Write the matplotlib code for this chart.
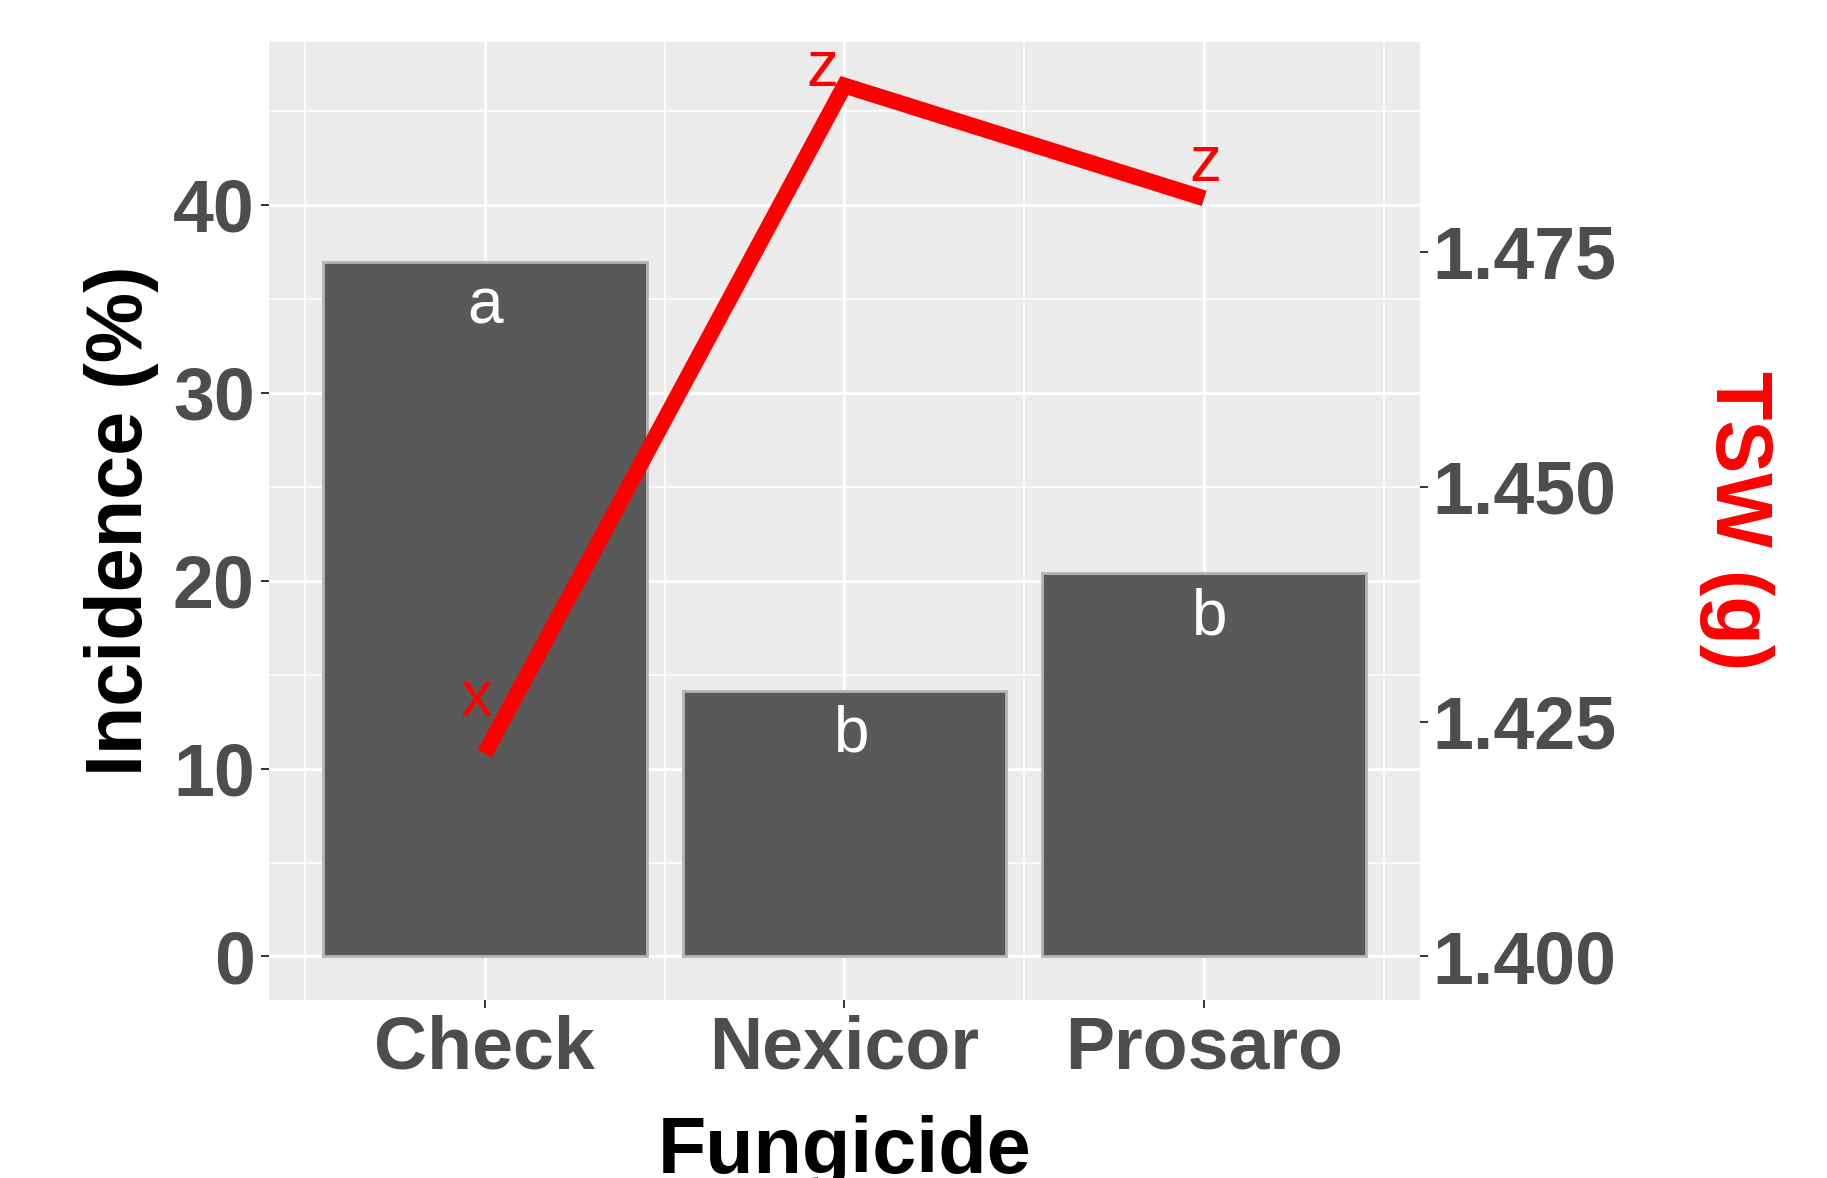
import matplotlib
matplotlib.use("Agg")
import matplotlib.pyplot as plt

# data
fungicides = ["Check", "Nexicor", "Prosaro"]
incidence = [36.96, 14.14, 20.40]
incidence_letters = ["a", "b", "b"]
tsw = [1.4216, 1.4927, 1.4807]
tsw_letters = ["x", "z", "z"]
inc_ticks = [0, 10, 20, 30, 40]
tsw_ticks = [1.400, 1.425, 1.450, 1.475]


# secondary axis: TSW = 1.4 + incidence / 500
def to_tsw(v):
    return 1.4 + v / 500.0


def from_tsw(t):
    return (t - 1.4) * 500.0


plt.rcParams["font.family"] = ["Liberation Sans", "DejaVu Sans"]
grey_txt = "#4D4D4D"

fig = plt.figure(figsize=(18.27, 11.78), dpi=100)
ax = fig.add_axes([0.1472, 0.1511, 0.6300, 0.8132])
ax.set_facecolor("#EBEBEB")
for s in ax.spines.values():
    s.set_visible(False)

x = list(range(len(fungicides)))
ax.bar(x, incidence, width=0.9, color="#595959", edgecolor="#B5B5B5", linewidth=2, zorder=2)

# ggplot style expansion
vals = [0] + incidence + [from_tsw(t) for t in tsw]
lo, hi = min(vals), max(vals)
pad = 0.05 * (hi - lo)
ax.set_ylim(lo - pad, hi + pad)
ax.set_xlim(-0.6, len(fungicides) - 0.4)

ax.set_xticks(x)
ax.set_xticklabels(fungicides)
ax.set_xticks([i - 0.5 for i in range(len(fungicides) + 1)], minor=True)
ax.set_yticks(inc_ticks)
ax.set_yticks([t + 5 for t in inc_ticks], minor=True)
ax.grid(which="major", color="white", linewidth=2.0)
ax.grid(which="minor", color="white", linewidth=1.1)
ax.set_axisbelow(True)
ax.tick_params(which="major", length=5.8, width=1.4, color="#333333",
               labelsize=53, labelcolor=grey_txt, pad=4.5)
ax.tick_params(which="minor", length=0)
for lab in ax.get_xticklabels() + ax.get_yticklabels():
    lab.set_fontweight("bold")

for xi, v, letter, dx in zip(x, incidence, incidence_letters, [0, 5, 4]):
    ax.annotate(letter, (xi, v), xytext=(dx, -44), textcoords="offset points",
                ha="center", va="baseline", color="white", fontsize=46)

ax.set_ylabel("Incidence (%)", fontsize=57, fontweight="bold", color="black", va="center")
ax.yaxis.set_label_coords(-0.1277, 0.5)
ax.set_xlabel("Fungicide", fontsize=57, fontweight="bold", color="black", va="baseline")
ax.xaxis.set_label_coords(0.5, -0.1806)

# TSW line on the secondary axis
ax2 = ax.twinx()
ax2.set_facecolor("none")
for s in ax2.spines.values():
    s.set_visible(False)
ax2.set_ylim(to_tsw(lo - pad), to_tsw(hi + pad))
ax2.plot(x, tsw, color="red", linewidth=11.5, solid_capstyle="butt", solid_joinstyle="miter")
ax2.set_yticks(tsw_ticks)
ax2.set_yticklabels(["%.3f" % t for t in tsw_ticks], fontweight="bold")
ax2.tick_params(length=5.8, width=1.4, color="#333333", labelsize=53,
                labelcolor=grey_txt, pad=3.5)

for xi, t, letter, off in zip(x, tsw, tsw_letters, [(-6, 27), (-16, 0), (1, 12.6)]):
    ax2.annotate(letter, (xi, t), xytext=off, textcoords="offset points",
                 ha="center", va="baseline", color="red", fontsize=46)

ax2.set_ylabel("TSW (g)", fontsize=57, fontweight="bold", color="red",
               rotation=270, va="center")
ax2.yaxis.set_label_coords(1.2746, 0.5)

fig.savefig("out.png", dpi=100)
